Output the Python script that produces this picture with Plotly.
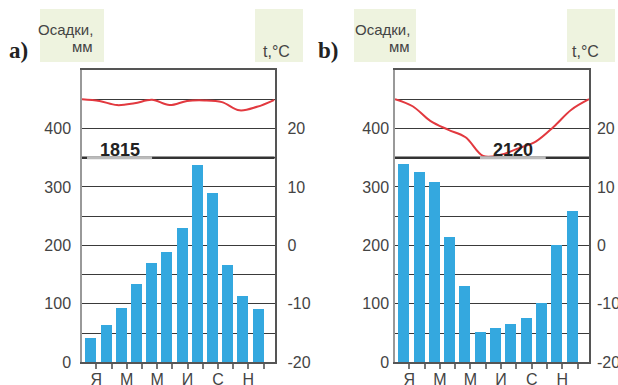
import plotly.graph_objects as go

# ---------------- data ----------------
month_initials = ["Я", "Ф", "М", "А", "М", "И", "И", "А", "С", "О", "Н", "Д"]
precip_a = [42, 64, 93, 134, 170, 189, 230, 338, 290, 167, 114, 91]
precip_b = [340, 326, 309, 215, 131, 51, 59, 66, 76, 102, 200, 258]
temp_a = [25.0, 24.7, 24.0, 24.3, 24.9, 24.0, 24.7, 24.8, 24.5, 23.1, 23.7, 24.9]
temp_b = [25.0, 23.8, 21.3, 19.8, 18.5, 15.3, 15.5, 16.6, 17.8, 20.3, 23.2, 25.0]
total_a = 1815
total_b = 2120
precip_ticks = [0, 50, 100, 150, 200, 250, 300, 350, 400, 450]
temp_ticks = [-20, -10, 0, 10, 20]

# ---------------- styles ----------------
W, H = 618, 385
BAR_W = 0.72
BAR_COLOR = "#34a8df"
LINE_COLOR = "#e2393f"
GRID = "#3a3a3a"
TXT = "#444444"
FONT = "Liberation Sans"
GREEN = "#eef3df"


def px(x):
    return x / W


def py(y):
    return 1 - y / H


month_ticktext = [m if i % 2 == 0 else "" for i, m in enumerate(month_initials)]
month_tickvals = [i + BAR_W / 2 for i in range(len(month_initials))]
precip_ticktext = [str(v) if v % 100 == 0 else "" for v in precip_ticks]
temp_ticktext = [str(v).replace("−", "-") for v in temp_ticks]

ydom = [py(362.3), py(70)]
dom_a = [px(82), px(274.5)]
dom_b = [px(395), px(589)]

fig = go.Figure()

idx = list(range(len(month_initials)))
fig.add_trace(go.Bar(x=idx, y=precip_a, width=BAR_W, marker_color=BAR_COLOR,
                     marker_line_width=0, xaxis="x", yaxis="y", showlegend=False))
fig.add_trace(go.Scatter(x=idx, y=temp_a, mode="lines", line=dict(color=LINE_COLOR, width=2, shape="spline"),
                         xaxis="x3", yaxis="y2", showlegend=False))
fig.add_trace(go.Bar(x=idx, y=precip_b, width=BAR_W, marker_color=BAR_COLOR,
                     marker_line_width=0, xaxis="x2", yaxis="y3", showlegend=False))
fig.add_trace(go.Scatter(x=idx, y=temp_b, mode="lines", line=dict(color=LINE_COLOR, width=2, shape="spline"),
                         xaxis="x4", yaxis="y4", showlegend=False))

tickfont = dict(family=FONT, size=16, color=TXT)


def xbar(domain, anchor, rng):
    return dict(domain=domain, anchor=anchor, range=rng, showline=True, linecolor="#555",
                linewidth=1.5, mirror=True, showgrid=False, zeroline=False,
                tickmode="array", tickvals=month_tickvals, ticktext=month_ticktext,
                ticks="outside", ticklen=5, tickwidth=1.5, tickcolor="#777",
                ticklabelstandoff=-3,
                tickfont=tickfont, fixedrange=True, automargin=False)


def yleft(anchor, standoff):
    return dict(domain=ydom, anchor=anchor, range=[0, 500], tickmode="array",
                tickvals=precip_ticks, ticktext=precip_ticktext, showgrid=True,
                gridcolor=GRID, gridwidth=1.3, zeroline=False, showline=True,
                linecolor="#999", linewidth=1.5, ticks="", tickfont=tickfont,
                ticklabelstandoff=standoff, automargin=False, fixedrange=True)


def yright(anchor, overlay, standoff):
    return dict(overlaying=overlay, anchor=anchor, side="right", range=[-20, 30],
                tickmode="array", tickvals=temp_ticks, ticktext=temp_ticktext,
                showgrid=False, zeroline=False, showline=True, linecolor="#555",
                linewidth=1.5, ticks="", tickfont=tickfont, ticklabelstandoff=standoff,
                automargin=False, fixedrange=True)


def xtemp(overlay, anchor):
    return dict(overlaying=overlay, anchor=anchor, range=[0, len(temp_a) - 1], visible=False,
                automargin=False, fixedrange=True)


fig.update_layout(
    width=W, height=H, margin=dict(l=0, r=0, t=0, b=0),
    paper_bgcolor="white", plot_bgcolor="white", bargap=0,
    xaxis=xbar(dom_a, "y", [-0.58, 12.08]),
    yaxis=yleft("x", 6),
    yaxis2=yright("x", "y", 8),
    xaxis3=xtemp("x", "y2"),
    xaxis2=xbar(dom_b, "y3", [-0.57, 12.1]),
    yaxis3=yleft("x2", 1),
    yaxis4=yright("x2", "y3", 3),
    xaxis4=xtemp("x2", "y4"),
)

shapes = []
annotations = []

# thick 350 line + gray underline + totals
for xd, yr, (u0, u1), cx, total in [
    ("x domain", "y", (0.026, 0.364), 0.195, total_a),
    ("x2 domain", "y3", (0.438, 0.777), 0.606, total_b),
]:
    shapes.append(dict(type="line", xref=xd, yref=yr, x0=0, x1=1, y0=350, y1=350,
                       line=dict(color="#333", width=2.5), layer="above"))
    shapes.append(dict(type="line", xref=xd, yref=yr, x0=u0, x1=u1, y0=350, y1=350,
                       line=dict(color="#bbbbbb", width=3), layer="above"))
    annotations.append(dict(xref=xd, yref=yr, x=cx, y=350, xanchor="center", yanchor="bottom",
                            yshift=-4, text=f"<b>{total}</b>", showarrow=False,
                            font=dict(family=FONT, size=18, color="#222")))

# header boxes
for x0, x1 in [(40, 104), (255, 303), (354, 416), (567, 615)]:
    shapes.append(dict(type="rect", xref="paper", yref="paper", x0=px(x0), x1=px(x1),
                       y0=py(62), y1=py(9), fillcolor=GREEN, line=dict(width=0), layer="below"))

hdr_font = dict(family=FONT, size=15, color=TXT)
for letter, lx, ox, tx in [("a)", 18.5, 95, 260.5), ("b)", 328, 412, 570)]:
    annotations.append(dict(xref="paper", yref="paper", x=px(lx), y=py(51), text=f"<b>{letter}</b>",
                            showarrow=False, xanchor="center", yanchor="middle",
                            font=dict(family="Liberation Serif", size=23, color="#222")))
    annotations.append(dict(xref="paper", yref="paper", x=px(ox), y=py(29), text="Осадки,",
                            showarrow=False, xanchor="right", yanchor="middle", font=hdr_font))
    annotations.append(dict(xref="paper", yref="paper", x=px(ox), y=py(46), text="мм",
                            showarrow=False, xanchor="right", yanchor="middle", font=hdr_font))
    annotations.append(dict(xref="paper", yref="paper", x=px(tx), y=py(51.5), text="t,°C",
                            showarrow=False, xanchor="left", yanchor="middle",
                            font=dict(family=FONT, size=16, color=TXT)))

fig.update_layout(shapes=shapes, annotations=annotations)

fig.write_html("out.html", config={"displayModeBar": False},
               post_script="document.body.style.margin='0';document.body.style.overflow='hidden';")
